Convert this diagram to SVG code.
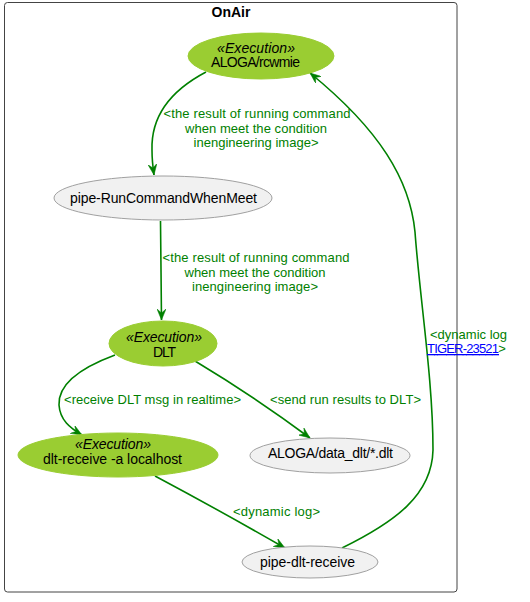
<svg xmlns="http://www.w3.org/2000/svg" width="530" height="602" viewBox="0 0 530 602">
<style>
text{font-family:"Liberation Sans",Arial,sans-serif}
.frame{fill:#ffffff;stroke:#444444;stroke-width:1}
.title{font-size:14px;font-weight:bold;fill:#000000;text-anchor:middle}
.exec{fill:#9ACD32;stroke:#9ACD32;stroke-width:1}
.plain{fill:#F1F1F1;stroke:#A0A0A0;stroke-width:1}
.nt{font-size:14px;fill:#000000;text-anchor:middle}
.st{font-size:14px;font-style:italic;fill:#000000;text-anchor:middle}
.edge{fill:none;stroke:#008000;stroke-width:1.6;marker-end:url(#arr)}
.lbl{font-size:13px;fill:#008000;text-anchor:middle}
.link{fill:#0000FF;text-decoration:underline}
</style>
<defs>
<marker id="arr" viewBox="0 0 11 9" refX="11" refY="4.5" markerWidth="11" markerHeight="9" markerUnits="userSpaceOnUse" orient="auto">
<path d="M0,0 L11,4.5 L0,9 L4,4.5 Z" fill="#008000" stroke="#008000" stroke-width="0.5"/>
</marker>
</defs>
<g id="frame-OnAir">
<rect class="frame" x="4.5" y="2.5" width="452.5" height="589.5" rx="3" ry="3"/>
<text class="title" x="231" y="17">OnAir</text>
</g>
<g id="connectors">
<path class="edge" d="M206,72 C168,92 151,118 152,150 C152,160 153,168 154,175"/>
<path class="edge" d="M160.5,221 C160.5,250 161.5,290 161.5,320"/>
<path class="edge" d="M115,355 C80,368 58,385 59,405 C60,420 70,428 82,435"/>
<path class="edge" d="M195,361 C235,385 275,412 310,438"/>
<path class="edge" d="M155,476 C200,500 245,525 285,548"/>
<path class="edge" d="M342,548 C395,522 432,495 433,450 C433,380 420,300 415,232 C410,180 380,130 310,73"/>
<text class="lbl" x="257" y="118" textLength="187">&lt;the result of running command</text>
<text class="lbl" x="256" y="132.5" textLength="142">when meet the condition</text>
<text class="lbl" x="256" y="147" textLength="125">inengineering image&gt;</text>
<text class="lbl" x="256" y="262" textLength="187">&lt;the result of running command</text>
<text class="lbl" x="255" y="277" textLength="141">when meet the condition</text>
<text class="lbl" x="255" y="291" textLength="126">inengineering image&gt;</text>
<text class="lbl" x="152.5" y="404" textLength="177">&lt;receive DLT msg in realtime&gt;</text>
<text class="lbl" x="345.5" y="404" textLength="151">&lt;send run results to DLT&gt;</text>
<text class="lbl" x="276.5" y="516" textLength="87">&lt;dynamic log&gt;</text>
<text class="lbl" x="468.5" y="339" textLength="77">&lt;dynamic log</text>
<text class="lbl" style="text-anchor:start" x="427" y="353"><tspan class="link" textLength="72">TIGER-23521</tspan><tspan>&gt;</tspan></text>
</g>
<g id="node-ALOGA-rcwmie">
<ellipse class="exec" cx="261" cy="56" rx="73" ry="23"/>
<text class="st" x="256" y="52.5" textLength="78">«Execution»</text>
<text class="nt" x="255.5" y="67" textLength="89">ALOGA/rcwmie</text>
</g>
<g id="node-pipe-RunCommandWhenMeet">
<ellipse class="plain" cx="163" cy="198" rx="109" ry="22"/>
<text class="nt" x="163.5" y="203" textLength="187">pipe-RunCommandWhenMeet</text>
</g>
<g id="node-DLT">
<ellipse class="exec" cx="163" cy="343.5" rx="54" ry="22.5"/>
<text class="st" x="164" y="342" textLength="76">«Execution»</text>
<text class="nt" x="164.5" y="356.5" textLength="23">DLT</text>
</g>
<g id="node-dlt-receive">
<ellipse class="exec" cx="118" cy="455" rx="100" ry="22"/>
<text class="st" x="113" y="449" textLength="76">«Execution»</text>
<text class="nt" x="112.5" y="463.5" textLength="139">dlt-receive -a localhost</text>
</g>
<g id="node-ALOGA-data_dlt">
<ellipse class="plain" cx="330" cy="455.5" rx="80" ry="17.5"/>
<text class="nt" x="330.5" y="458" textLength="125">ALOGA/data_dlt/*.dlt</text>
</g>
<g id="node-pipe-dlt-receive">
<ellipse class="plain" cx="310" cy="562" rx="68" ry="16"/>
<text class="nt" x="307.5" y="567" textLength="95">pipe-dlt-receive</text>
</g>
</svg>
